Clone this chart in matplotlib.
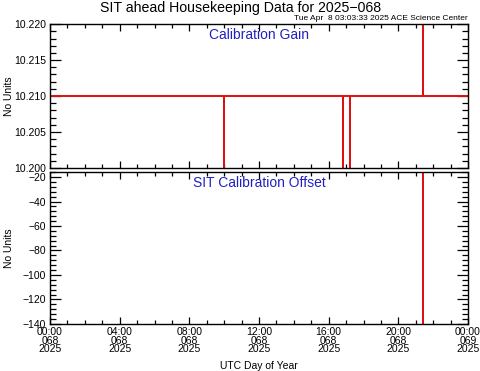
import matplotlib
matplotlib.use("Agg")
import matplotlib.pyplot as plt
from matplotlib.ticker import MultipleLocator

plt.rcParams["font.family"] = ["Liberation Sans", "DejaVu Sans"]

# SIT ahead housekeeping, day 068 of 2025 (hours since 00:00 UTC)
gain_base = 10.210
gain_spike_hours = [10.0, 16.85, 17.2, 21.42]
gain_spike_values = [10.200, 10.200, 10.200, 10.220]

offset_base = -16.0
offset_spike_hours = [21.42]
offset_spike_values = [-140.0]

x_tick_hours = [0, 4, 8, 12, 16, 20, 24]
x_tick_labels = ["00:00\n068\n2025", "04:00\n068\n2025", "08:00\n068\n2025",
                 "12:00\n068\n2025", "16:00\n068\n2025", "20:00\n068\n2025",
                 "00:00\n069\n2025"]


def spike_series(base, hours, values):
    """Build a step-like series that sits at base and jumps to each value."""
    xs, ys = [0.0], [base]
    for h, v in zip(hours, values):
        xs += [h, h, h]
        ys += [base, v, base]
    xs.append(24.0)
    ys.append(base)
    return xs, ys


def style_axis(ax):
    ax.set_xlim(0, 24)
    ax.xaxis.set_major_locator(MultipleLocator(4))
    ax.xaxis.set_minor_locator(MultipleLocator(1))
    ax.tick_params(which="both", direction="in", top=True, right=True,
                   labelsize=7.5, width=0.9, pad=3)
    ax.tick_params(axis="x", which="major", length=5, pad=2.5)
    ax.tick_params(axis="x", which="minor", length=3)
    ax.tick_params(axis="y", which="major", length=8)
    ax.tick_params(axis="y", which="minor", length=4)
    for sp in ax.spines.values():
        sp.set_linewidth(1.0)
    ax.set_ylabel("No Units", fontsize=7.5)
    ax.yaxis.set_label_coords(-0.086, 0.5)


fig = plt.figure(figsize=(4.81, 3.71), dpi=100)
ax1 = fig.add_axes([0.104, 0.547, 0.869, 0.388])
ax2 = fig.add_axes([0.104, 0.127, 0.869, 0.409])

x, y = spike_series(gain_base, gain_spike_hours, gain_spike_values)
ax1.plot(x, y, color="#e01010", lw=1.4)
ax1.set_ylim(10.200, 10.220)
ax1.yaxis.set_major_locator(MultipleLocator(0.005))
ax1.yaxis.set_minor_locator(MultipleLocator(0.001))
ax1.yaxis.set_major_formatter(lambda v, p: "%.3f" % v)
style_axis(ax1)
ax1.set_xticks(x_tick_hours)
ax1.set_xticklabels([])
ax1.text(0.5, 0.975, "Calibration Gain", transform=ax1.transAxes,
         ha="center", va="top", color="#2020c0", fontsize=10)

x, y = spike_series(offset_base, offset_spike_hours, offset_spike_values)
ax2.plot(x, y, color="#e01010", lw=1.4)
ax2.set_ylim(-140, -16)
ax2.yaxis.set_major_locator(MultipleLocator(20))
ax2.yaxis.set_minor_locator(MultipleLocator(4))
ax2.yaxis.set_major_formatter(lambda v, p: ("\u2212%d" % -v) if v < 0 else "%d" % v)
style_axis(ax2)
ax2.set_xticks(x_tick_hours)
ax2.set_xticklabels(x_tick_labels, linespacing=0.82)
ax2.set_xlabel("UTC Day of Year", fontsize=7.5, labelpad=5)
ax2.text(0.5, 0.975, "SIT Calibration Offset", transform=ax2.transAxes,
         ha="center", va="top", color="#2020c0", fontsize=10)

fig.text(0.5, 0.998, "SIT ahead Housekeeping Data for 2025\u2212068",
         ha="center", va="top", fontsize=10.2)
fig.text(0.973, 0.940, "Tue Apr  8 03:03:33 2025 ACE Science Center",
         ha="right", va="bottom", fontsize=6.0)

fig.savefig("out.png", dpi=100)
